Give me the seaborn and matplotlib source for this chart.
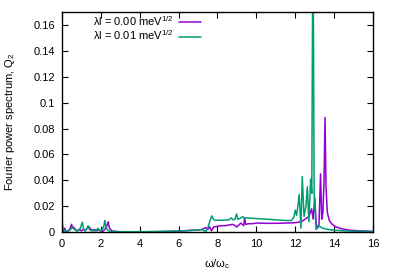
import matplotlib
matplotlib.use("Agg")
import matplotlib.pyplot as plt
import seaborn as sns
import pandas as pd

# lambda l = 0.00 meV^1/2
w_a = [0.0, 0.05, 0.1, 0.15, 0.2, 0.3, 0.4, 0.5, 0.55, 0.6, 0.7, 0.8, 0.9, 1.0,
       1.1, 1.2, 1.3, 1.4, 1.5, 1.6, 1.7, 1.8, 1.9, 2.0, 2.1, 2.2, 2.3, 2.38,
       2.45, 2.6, 3.0, 4.0, 5.0, 6.0, 6.8, 7.2, 7.4, 7.5, 7.6, 7.7, 7.8, 8.0,
       8.2, 8.4, 8.6, 8.8, 9.0, 9.2, 9.35, 9.4, 9.45, 9.6, 9.8, 10.0, 10.5,
       11.0, 11.5, 11.9, 12.1, 12.3, 12.5, 12.7, 12.84, 12.92, 13.0, 13.08,
       13.15, 13.22, 13.3, 13.36, 13.42, 13.48, 13.53, 13.58, 13.65, 13.75,
       13.9, 14.1, 14.4, 14.8, 15.3, 16.0]
q_a = [0.004, 0.001, 0.0005, 0.003, 0.001, 0.0005, 0.002, 0.006, 0.003, 0.004,
       0.002, 0.001, 0.002, 0.001, 0.002, 0.001, 0.003, 0.004, 0.002, 0.001,
       0.002, 0.001, 0.002, 0.001, 0.0005, 0.002, 0.004, 0.008, 0.003, 0.0008,
       0.0003, 0.0002, 0.0004, 0.0008, 0.0015, 0.002, 0.0035, 0.002, 0.004,
       0.001, 0.004, 0.0045, 0.005, 0.005, 0.0055, 0.006, 0.004, 0.007, 0.005,
       0.011, 0.006, 0.0065, 0.0065, 0.007, 0.0068, 0.0068, 0.007, 0.0072,
       0.0075, 0.008, 0.01, 0.012, 0.018, 0.01, 0.027, 0.006, 0.003, 0.006,
       0.045, 0.01, 0.015, 0.04, 0.0885, 0.035, 0.015, 0.009, 0.006, 0.004,
       0.0025, 0.0015, 0.001, 0.0006]

# lambda l = 0.01 meV^1/2
w_b = [0.0, 0.03, 0.08, 0.15, 0.25, 0.35, 0.45, 0.55, 0.65, 0.75, 0.85, 0.95,
       1.05, 1.12, 1.2, 1.3, 1.35, 1.42, 1.5, 1.6, 1.7, 1.8, 1.85, 1.95, 2.05,
       2.15, 2.21, 2.28, 2.4, 2.6, 3.0, 4.0, 5.0, 6.0, 6.8, 7.2, 7.4, 7.5, 7.6,
       7.7, 7.8, 7.9, 8.0, 8.3, 8.6, 8.7, 8.8, 8.9, 8.98, 9.05, 9.15, 9.3, 9.4,
       9.5, 9.7, 10.0, 10.5, 11.0, 11.5, 11.8, 11.93, 12.0, 12.07, 12.14, 12.2,
       12.29, 12.36, 12.45, 12.55, 12.62, 12.7, 12.79, 12.85, 12.91, 12.97,
       13.07, 13.2, 13.4, 13.7, 14.0, 14.5, 15.0, 16.0]
q_b = [0.015, 0.006, 0.002, 0.001, 0.0008, 0.001, 0.002, 0.004, 0.002, 0.001,
       0.0015, 0.003, 0.0077, 0.002, 0.001, 0.003, 0.005, 0.002, 0.001, 0.002,
       0.0008, 0.002, 0.003, 0.001, 0.0015, 0.004, 0.009, 0.003, 0.001, 0.0004,
       0.0003, 0.0003, 0.0005, 0.0008, 0.0015, 0.002, 0.0005, 0.003, 0.008,
       0.0125, 0.01, 0.009, 0.0092, 0.0092, 0.0095, 0.011, 0.0095, 0.01, 0.014,
       0.01, 0.0105, 0.012, 0.0105, 0.011, 0.0108, 0.0105, 0.01, 0.0095, 0.009,
       0.009, 0.0115, 0.017, 0.013, 0.021, 0.029, 0.003, 0.043, 0.012, 0.02,
       0.035, 0.008, 0.041, 0.03, 0.25, 0.03, 0.002, 0.005, 0.003, 0.002,
       0.0015, 0.001, 0.0007, 0.0004]

labels = ["λl = 0.00 meV$^{1/2}$", "λl = 0.01 meV$^{1/2}$"]
colors = ["#9400d3", "#009e73"]

df = pd.concat([
    pd.DataFrame({"w": w_a, "q": q_a, "set": labels[0]}),
    pd.DataFrame({"w": w_b, "q": q_b, "set": labels[1]}),
])

sns.set_style("ticks")
plt.rcParams["font.family"] = ["Liberation Sans", "DejaVu Sans"]
plt.rcParams["mathtext.fontset"] = "custom"
plt.rcParams["mathtext.rm"] = "Liberation Sans"
plt.rcParams["mathtext.it"] = "Liberation Sans"
plt.rcParams["text.color"] = "black"
plt.rcParams["axes.labelcolor"] = "black"

fig = plt.figure(figsize=(3.99, 2.79), dpi=100)
ax = fig.add_axes([0.155, 0.168, 0.78, 0.789])
sns.lineplot(data=df, x="w", y="q", hue="set", palette=colors, sort=False,
             estimator=None, linewidth=1.1, ax=ax)

ax.set_xlim(0, 16)
ax.set_ylim(0, 0.17)
ax.set_xticks(range(0, 17, 2))
ax.set_yticks([0, 0.02, 0.04, 0.06, 0.08, 0.1, 0.12, 0.14, 0.16])
ax.set_yticklabels(["0", "0.02", "0.04", "0.06", "0.08", "0.1", "0.12", "0.14", "0.16"])
ax.tick_params(direction="in", top=True, right=True, length=4, width=0.8,
               labelsize=8, colors="black", pad=5)
for s in ax.spines.values():
    s.set_linewidth(1.0)
    s.set_color("black")

ax.set_xlabel(r"$\omega/\omega_\mathrm{c}$", fontsize=8, labelpad=6)
ax.set_ylabel("Fourier power spectrum, Q$_2$", fontsize=8, labelpad=12)

ax.legend(loc="upper left", bbox_to_anchor=(0.08, 1.02), frameon=False,
          markerfirst=False, fontsize=8, handlelength=2.0, labelspacing=0.05,
          handletextpad=0.4, borderaxespad=0.2)

fig.savefig("out.png", dpi=100)
